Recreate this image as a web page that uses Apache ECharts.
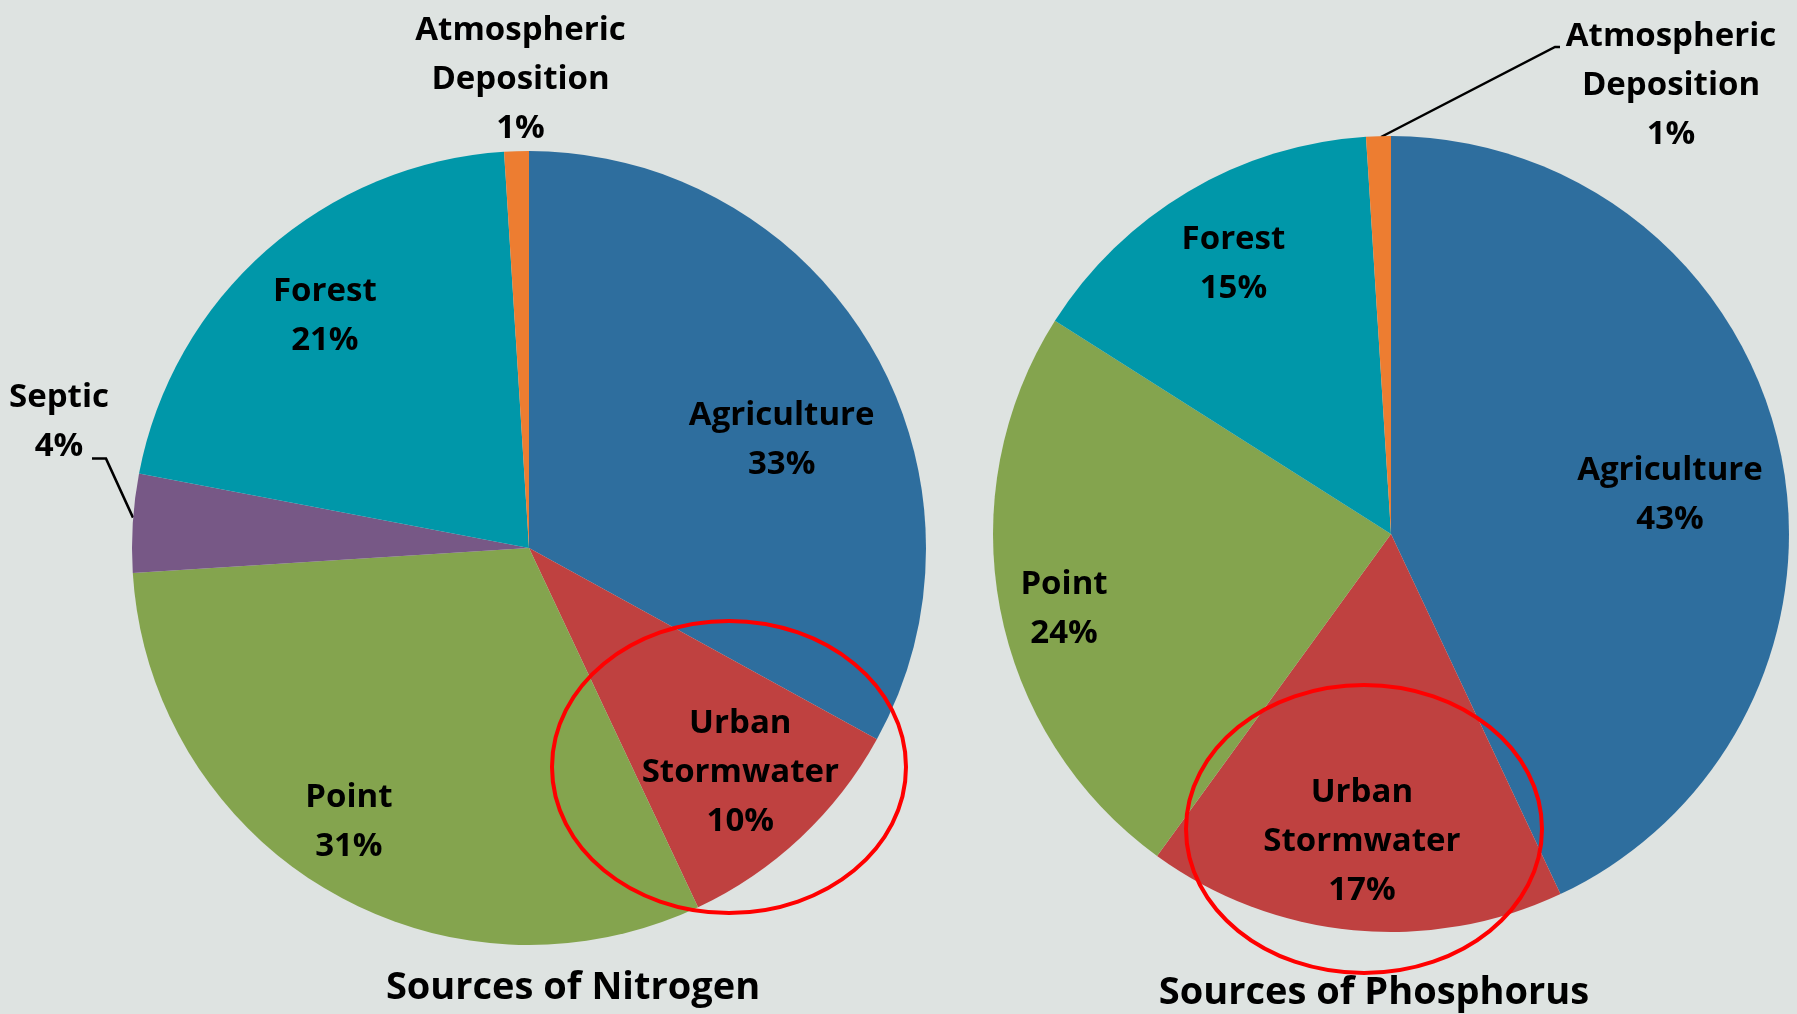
<!DOCTYPE html>
<html>
<head>
<meta charset="utf-8">
<title>Sources of Nitrogen and Phosphorus</title>
<script src="https://cdn.jsdelivr.net/npm/echarts@6/dist/echarts.min.js"></script>
<style>
  html, body { margin: 0; padding: 0; background: #DEE3E1; }
  #main { width: 1797px; height: 1014px; }
</style>
</head>
<body>
<div id="main"></div>
<script>
// slices go clockwise from 12 o'clock
const nitrogenSources = ['Agriculture', 'Urban Stormwater', 'Point', 'Septic', 'Forest', 'Atmospheric Deposition'];
const nitrogenShare = [33, 10, 31, 4, 21, 1];

const phosphorusSources = ['Agriculture', 'Urban Stormwater', 'Point', 'Forest', 'Atmospheric Deposition'];
const phosphorusShare = [43, 17, 24, 15, 1];

const chartTitles = ['Sources of Nitrogen', 'Sources of Phosphorus'];

// small slices get their label outside the pie
const outsideLabels = ['Septic', 'Atmospheric Deposition'];

const sourceColors = {
  'Agriculture': '#2E6E9E',
  'Urban Stormwater': '#BF4140',
  'Point': '#84A44E',
  'Septic': '#775886',
  'Forest': '#0097A9',
  'Atmospheric Deposition': '#ED7D31'
};

// excel "best fit" moves a few labels off the mid radius, nudge them (px)
const nudgeN = { 'Agriculture': [-13, 49], 'Point': [-23, 8] };
const nudgeP = { 'Agriculture': [-23, 29], 'Point': [-23, 17], 'Forest': [0, -4] };

const FONT = '"Open Sans", Lato, sans-serif';
const textStyle = { color: '#000', fontFamily: FONT, fontWeight: 'bold', fontSize: 33, lineHeight: 49 };

const labelText = p => p.name.replace(' ', '\n') + '\n' + p.value + '%';

function pieData(names, values, withLine) {
  return names.map((n, i) => ({
    name: n,
    value: values[i],
    itemStyle: { color: sourceColors[n] },
    label: { show: outsideLabels.indexOf(n) > -1 },
    labelLine: { show: withLine.indexOf(n) > -1 }
  }));
}

// transparent ring on top, only used to put the big labels at ~3/4 radius
function labelRing(names, values, center, r, nudge) {
  return {
    type: 'pie',
    center: center,
    radius: [r * 0.54, r],
    silent: true,
    z: 3,
    emphasis: { disabled: true },
    itemStyle: { color: 'transparent', borderWidth: 0 },
    label: Object.assign({ position: 'inside', formatter: labelText }, textStyle),
    labelLine: { show: false },
    labelLayout: function (p) {
      const d = nudge[names[p.dataIndex]];
      if (!d) return {};
      const lr = p.labelRect;
      return {
        x: lr.x + lr.width / 2 + d[0], y: lr.y + lr.height / 2 + d[1],
        align: 'center', verticalAlign: 'middle'
      };
    },
    data: names.map((n, i) => ({
      name: n,
      value: values[i],
      label: { show: outsideLabels.indexOf(n) < 0 }
    }))
  };
}

const chart = echarts.init(document.getElementById('main'));

chart.setOption({
  animation: false,
  backgroundColor: '#DEE3E1',
  title: [
    { text: chartTitles[0], left: 573, top: 988, textAlign: 'center', textVerticalAlign: 'middle', padding: 0,
      textStyle: { color: '#000', fontFamily: FONT, fontWeight: 'bold', fontSize: 38 } },
    { text: chartTitles[1], left: 1374, top: 993, textAlign: 'center', textVerticalAlign: 'middle', padding: 0,
      textStyle: { color: '#000', fontFamily: FONT, fontWeight: 'bold', fontSize: 38 } }
  ],
  graphic: [
    { type: 'ellipse', z: 100, silent: true, shape: { cx: 729, cy: 767, rx: 177, ry: 146 },
      style: { fill: 'none', stroke: '#FF0000', lineWidth: 4 } },
    { type: 'ellipse', z: 100, silent: true, shape: { cx: 1364, cy: 829, rx: 178, ry: 144 },
      style: { fill: 'none', stroke: '#FF0000', lineWidth: 4 } }
  ],
  series: [
    {
      type: 'pie',
      center: [529, 548],
      radius: [0, 397],
      startAngle: 90,
      minShowLabelAngle: 0,
      avoidLabelOverlap: false,
      emphasis: { disabled: true },
      itemStyle: { borderWidth: 0 },
      label: Object.assign({ position: 'outside', formatter: labelText }, textStyle),
      labelLine: { lineStyle: { color: '#000', width: 2.5 } },
      labelLayout: function (p) {
        const name = nitrogenSources[p.dataIndex];
        const r = p.rect;
        if (name === 'Septic') {
          return {
            x: r.x - 73, y: r.y - 52, align: 'center', verticalAlign: 'middle',
            labelLinePoints: [[r.x + 1, r.y + 44], [r.x - 26, r.y - 15], [r.x - 40, r.y - 15]]
          };
        }
        if (name === 'Atmospheric Deposition') {
          return { x: r.x + r.width / 2 + 4, y: r.y + 2, align: 'center', verticalAlign: 'bottom' };
        }
        return {};
      },
      data: pieData(nitrogenSources, nitrogenShare, ['Septic'])
    },
    labelRing(nitrogenSources, nitrogenShare, [529, 548], 397, nudgeN),
    {
      type: 'pie',
      center: [1391, 534],
      radius: [0, 398],
      startAngle: 90,
      minShowLabelAngle: 0,
      avoidLabelOverlap: false,
      emphasis: { disabled: true },
      itemStyle: { borderWidth: 0 },
      label: Object.assign({ position: 'outside', formatter: labelText }, textStyle),
      labelLine: { lineStyle: { color: '#000', width: 2.5 } },
      labelLayout: function (p) {
        const name = phosphorusSources[p.dataIndex];
        const r = p.rect;
        if (name === 'Atmospheric Deposition') {
          const x0 = r.x + r.width * 0.6;
          return {
            x: x0 + 290, y: r.y - 124, align: 'center', verticalAlign: 'top',
            labelLinePoints: [[x0, r.y + 1], [x0 + 174, r.y - 89], [x0 + 179, r.y - 89]]
          };
        }
        return {};
      },
      data: pieData(phosphorusSources, phosphorusShare, ['Atmospheric Deposition'])
    },
    labelRing(phosphorusSources, phosphorusShare, [1391, 534], 398, nudgeP)
  ]
});
</script>
</body>
</html>
